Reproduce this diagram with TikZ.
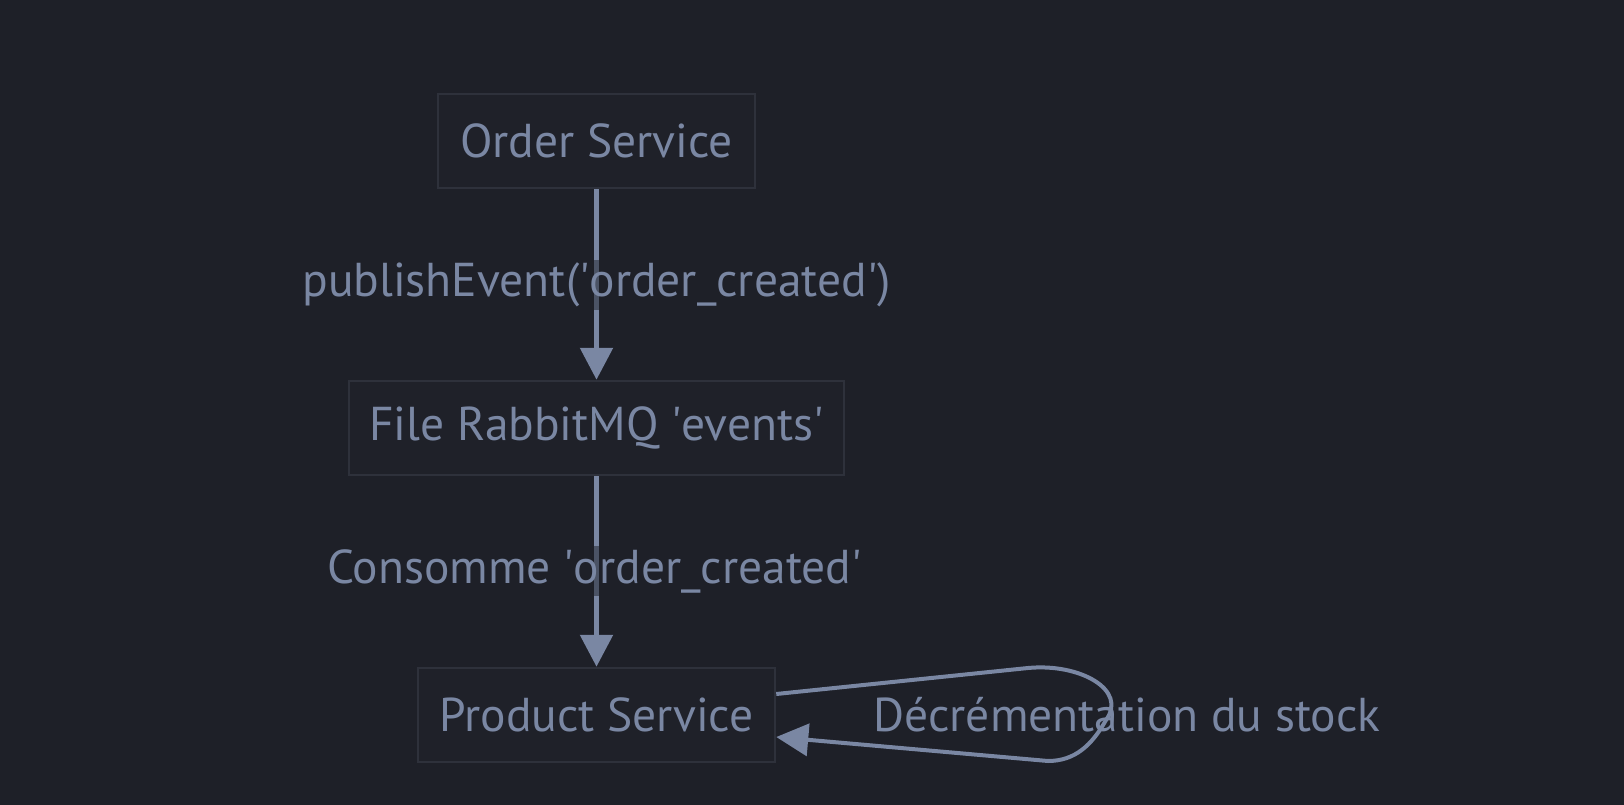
\documentclass[tikz,border=0pt]{standalone}
\usepackage{fontspec}
\setmainfont{PT Sans}
\usetikzlibrary{arrows.meta}
\definecolor{bg}{HTML}{1E2028}
\definecolor{nodefill}{HTML}{1F2129}
\definecolor{nodeborder}{HTML}{2E313B}
\definecolor{ink}{HTML}{7A87A3}
\newcommand{\sq}{\textquotesingle}
\tikzset{
  box/.style={draw=nodeborder, line width=2.5pt, fill=nodefill, text=ink, font=\fontsize{47.5}{54}\selectfont, minimum height=94pt, inner xsep=20pt, anchor=center},
  conn/.style={draw=ink, line width=5.5pt, -{Triangle[length=32pt,width=32pt]}},
  elabel/.style={fill=bg, fill opacity=0.5, text opacity=1, text=ink, font=\fontsize{47.5}{54}\selectfont, inner sep=3pt}
}
\begin{document}
\begin{tikzpicture}[x=1pt,y=-1pt]
\fill[bg] (0,0) rectangle (1624,805);
\useasboundingbox (0,0) rectangle (1624,805);
\node[box, minimum width=317pt] (order) at (596.5,141) {Order Service};
\node[box, minimum width=483pt] (queue) at (596.5,428) {File RabbitMQ \sq events\sq};
\node[box, minimum width=357pt] (product) at (596.5,715) {Product Service};
\draw[conn] (order.south) -- (queue.north);
\draw[conn] (queue.south) -- (product.north);
\node[elabel] (l1) at (596.5,285) {publishEvent(\sq order\_created\sq)};
\node[elabel] (l2) at (594.5,571) {Consomme \sq order\_created\sq};
\coordinate (lt) at (1028,668);
\coordinate (lb) at (1048,761);
\draw[draw=ink, line width=4pt, -{Triangle[length=32pt,width=32pt]}]
  ([yshift=21pt]product.east) -- (lt) .. controls (1080,663) and (1128,690) .. (1106,720) .. controls (1092,745) and (1075,761) .. (lb) -- ([yshift=-22pt]product.east);
\node[elabel, fill opacity=0] (l3) at (1127,715) {Décrémentation du stock};
\end{tikzpicture}
\end{document}
